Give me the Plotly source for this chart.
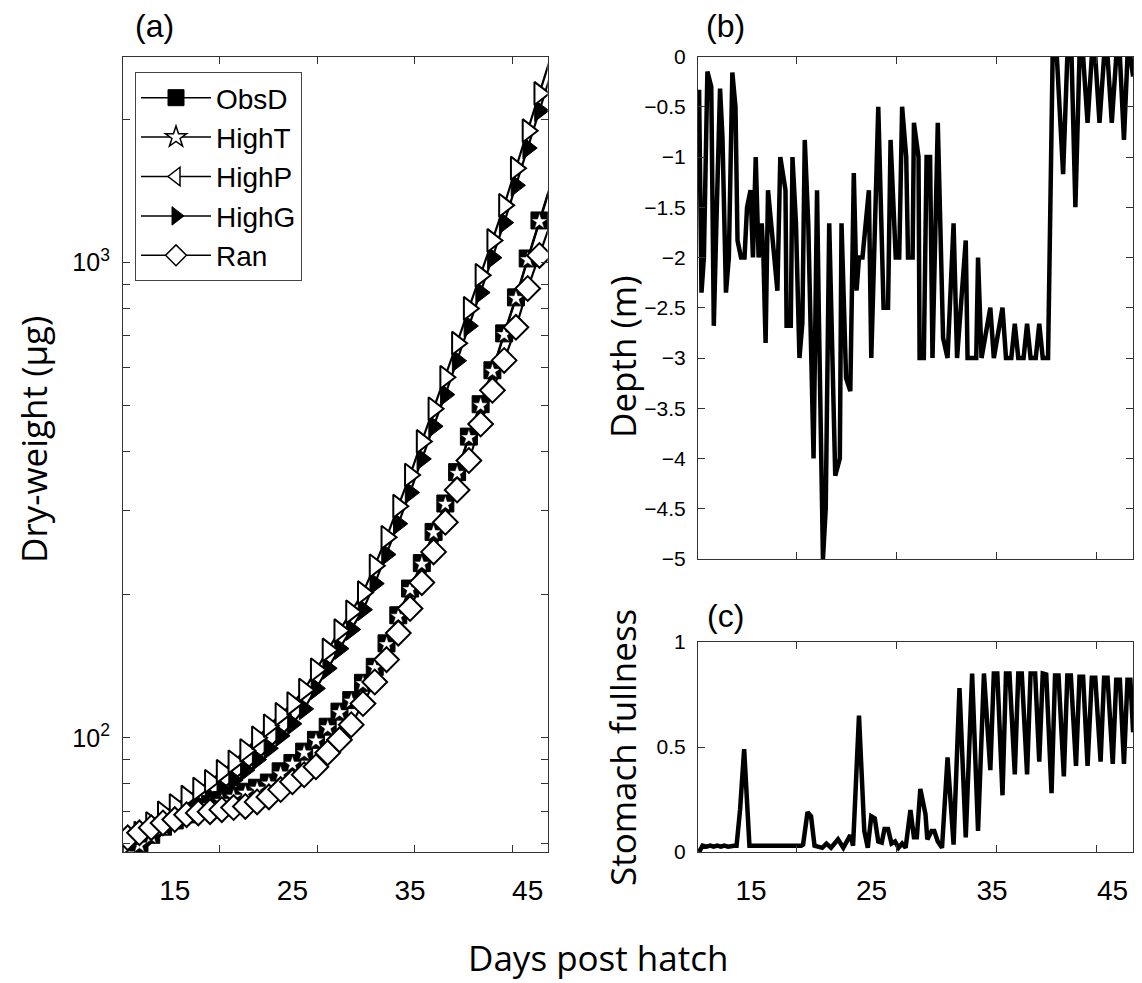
import plotly.graph_objects as go

# ---------------- data ----------------
days = list(range(11, 48))
obsd = [57.5, 60, 62.5, 65, 67, 69, 71, 72.5, 74, 75.5, 77, 78.5, 80.5, 85, 88.5, 93.5, 99, 105.5,
        113.5, 120, 130.5, 141, 158, 181, 206, 233, 271, 311, 362, 430, 503, 593, 709, 844, 1019,
        1225, 1470]
hight = [57, 59.5, 62, 64.5, 66.5, 68.5, 70.5, 72, 73.5, 75, 76.5, 78, 80, 84, 88, 93, 98.5, 105,
         113, 119.5, 130, 140.5, 157, 180, 205, 232, 270, 310, 360, 428, 500, 590, 705, 840, 1013,
         1218, 1460]
highp = [60, 63, 66, 69.5, 72, 75, 78, 81, 85, 89, 94, 100, 106, 112, 118, 126, 139, 153, 168, 184,
         202, 230, 264, 307, 357, 420, 492, 573, 676, 800, 939, 1112, 1318, 1578, 1892, 2266, 2720]
highg = [57, 59.5, 62, 65, 67.5, 70, 72.5, 75, 78, 81.5, 85.5, 90, 95, 101, 107, 115, 127, 140, 154,
         169, 186, 211, 243, 282, 328, 386, 452, 527, 621, 735, 864, 1023, 1212, 1452, 1740, 2085, 2500]
ran = [61.6, 63.1, 64.7, 66.2, 67.3, 68.9, 69.5, 69.9, 70.6, 71.3, 71.7, 73.3, 75.1, 77.8, 80.8, 83.6,
       86.9, 93, 99, 106.5, 118, 131, 146, 166, 187, 212, 246, 284, 332, 383, 457, 538, 622, 730,
       881, 1034, 1220]

depth_days = [10.69, 10.89, 11.09, 11.38, 11.70, 11.91, 12.14, 12.43, 12.63, 12.92,
              13.16, 13.45, 13.71, 13.88, 14.17, 14.46, 14.67, 14.96, 15.16, 15.39,
              15.63, 15.89, 16.03, 16.21, 16.41, 16.79, 17.19, 17.43, 17.86, 17.95,
              18.30, 18.44, 18.73, 19.02, 19.26, 19.46, 19.75, 20.19, 20.48, 20.62,
              20.97, 21.20, 21.49, 21.99, 22.37, 22.51, 22.89, 23.24, 23.53, 23.76,
              23.96, 24.25, 24.78, 24.98, 25.56, 26.00, 26.37, 26.58, 27.01, 27.30,
              27.54, 27.88, 28.03, 28.41, 28.52, 28.90, 28.99, 29.34, 29.57, 29.86,
              30.06, 30.50, 30.94, 31.31, 31.81, 32.10, 32.82, 32.97, 33.69, 33.84,
              34.13, 34.86, 35.15, 35.87, 36.16, 36.60, 36.89, 37.18, 37.62, 37.91,
              38.20, 38.63, 38.92, 39.21, 39.65, 40.03, 40.38, 40.90, 41.25, 41.60,
              41.92, 42.26, 42.56, 42.93, 43.28, 43.57, 43.92, 44.30, 44.59, 44.94,
              45.31, 45.61, 45.95, 46.24, 46.48, 46.71]
depth = [-0.33, -2.35, -2.0, -0.15, -0.3, -2.68, -1.6, -0.32, -0.8, -2.35,
         -2.0, -0.16, -0.5, -1.83, -2.0, -2.0, -1.5, -1.33, -2.0, -1.0,
         -2.0, -1.66, -2.0, -2.85, -1.33, -1.83, -2.33, -1.0, -1.33, -2.68,
         -2.68, -1.0, -1.66, -3.0, -2.65, -0.83, -1.66, -4.0, -1.33, -2.5,
         -5.0, -4.5, -1.66, -4.17, -4.0, -1.66, -3.2, -3.33, -1.16, -2.33,
         -2.0, -2.0, -1.33, -3.0, -0.5, -2.5, -2.5, -0.83, -2.0, -2.0,
         -0.5, -1.0, -2.0, -2.0, -0.66, -1.0, -3.0, -3.0, -1.0, -1.0,
         -3.0, -0.66, -2.8, -3.0, -1.66, -3.0, -1.83, -3.0, -3.0, -2.0,
         -3.0, -2.5, -3.0, -2.5, -3.0, -3.0, -2.66, -3.0, -3.0, -2.66,
         -3.0, -3.0, -2.66, -3.0, -3.0, 0, 0, -1.17, 0, 0,
         -1.5, 0, 0, -0.66, 0, 0, -0.66, 0, 0, -0.66,
         0, 0, -0.83, 0, 0, -0.2]

stom_days = [10.69, 10.98, 11.3, 11.62, 11.9, 12.2, 12.5, 12.78, 13.1, 13.36,
             13.6, 13.80, 14.09, 14.43, 14.73, 14.87, 15.5, 16.26, 17.0, 17.72,
             18.4, 19.17, 19.32, 19.69, 19.98, 20.27, 20.91, 21.26, 21.64, 22.22,
             22.66, 23.24, 23.47, 23.96, 24.40, 24.69, 24.98, 25.27, 25.56, 25.85,
             26.08, 26.37, 26.66, 26.95, 27.24, 27.54, 27.83, 28.23, 28.52, 28.76,
             29.05, 29.48, 29.63, 29.98, 30.21, 30.50, 30.85, 31.31, 31.81, 32.30,
             32.82, 33.35, 33.84, 34.33, 34.86, 35.15, 35.44, 35.87, 36.16, 36.45,
             36.89, 37.18, 37.47, 37.91, 38.20, 38.58, 38.92, 39.21, 39.50, 39.94,
             40.23, 40.52, 40.96, 41.25, 41.54, 41.97, 42.26, 42.56, 42.93, 43.28,
             43.57, 44.01, 44.30, 44.59, 45.02, 45.31, 45.61, 45.95, 46.24, 46.48,
             46.71]
stomach = [0.0, 0.03, 0.025, 0.03, 0.025, 0.03, 0.025, 0.03, 0.025, 0.03,
           0.03, 0.03, 0.2, 0.49, 0.1, 0.03, 0.03, 0.03, 0.025, 0.03,
           0.03, 0.03, 0.035, 0.19, 0.17, 0.03, 0.02, 0.04, 0.02, 0.06,
           0.02, 0.08, 0.03, 0.65, 0.1, 0.02, 0.17, 0.16, 0.05, 0.045,
           0.11, 0.11, 0.04, 0.05, 0.02, 0.04, 0.02, 0.2, 0.07, 0.07,
           0.3, 0.18, 0.06, 0.1, 0.1, 0.05, 0.02, 0.45, 0.035, 0.78,
           0.07, 0.85, 0.1, 0.85, 0.39, 0.85, 0.85, 0.27, 0.85, 0.85,
           0.37, 0.85, 0.85, 0.37, 0.85, 0.85, 0.43, 0.85, 0.845, 0.28,
           0.84, 0.84, 0.36, 0.84, 0.84, 0.41, 0.835, 0.835, 0.41, 0.83,
           0.83, 0.43, 0.83, 0.83, 0.42, 0.82, 0.82, 0.42, 0.82, 0.82,
           0.57]

x_labels = [15, 25, 35, 45]
x_marks = [18.8, 27.1, 35.4, 43.7]
y_log_major = [100, 1000]
y_log_text = ['10<sup>2</sup>', '10<sup>3</sup>']
y_log_minor = [60, 70, 80, 90, 200, 300, 400, 500, 600, 700, 800, 900, 2000]
series_names = ['ObsD', 'HighT', 'HighP', 'HighG', 'Ran']

# ---------------- styling ----------------
# the page body adds an 8px margin, so the figure is made 8px smaller and
# all layout positions below are given in window pixels minus that offset
OFF = 8
W, H = 1142 - OFF, 983 - OFF
XTICKF = dict(family='Liberation Sans, Arial, sans-serif', size=28, color='black')
YTICKF = dict(family='Liberation Sans, Arial, sans-serif', size=21, color='black')
LOGTICKF = dict(family='Liberation Sans, Arial, sans-serif', size=25, color='black')
LABF = dict(family='Open Sans, sans-serif', size=35, color='black')
AXC = '#333333'
XR = [10.6, 46.7]


def fx(p):
    return (p - OFF) / W


def fy(p):
    return 1 - (p - OFF) / H


fig = go.Figure()
lw = dict(color='black', width=2.2)
nm = len(days)


def sizes(s):
    return [s] * (nm - 1) + [0]


# plotting order chosen so that white markers sit on top like the reference
fig.add_trace(go.Scatter(x=days, y=obsd, mode='lines+markers', line=lw,
                         marker=dict(symbol='square', size=sizes(17), color='black', opacity=1,
                                     line=dict(color='black', width=1)),
                         showlegend=False, xaxis='x', yaxis='y'))
fig.add_trace(go.Scatter(x=days, y=highg, mode='lines+markers', line=lw,
                         marker=dict(symbol='triangle-right', size=sizes(19), color='black', opacity=1,
                                     line=dict(color='black', width=1)),
                         showlegend=False, xaxis='x', yaxis='y'))
fig.add_trace(go.Scatter(x=days, y=hight, mode='lines+markers', line=lw,
                         marker=dict(symbol='star', size=sizes(12), color='white', opacity=1,
                                     line=dict(color='black', width=0.5)),
                         showlegend=False, xaxis='x', yaxis='y'))
fig.add_trace(go.Scatter(x=days, y=highp, mode='lines+markers', line=lw,
                         marker=dict(symbol='triangle-right', size=sizes(20), color='white', opacity=1,
                                     line=dict(color='black', width=2)),
                         showlegend=False, xaxis='x', yaxis='y'))
fig.add_trace(go.Scatter(x=days, y=ran, mode='lines+markers', line=lw,
                         marker=dict(symbol='diamond', size=sizes(19), color='white', opacity=1,
                                     line=dict(color='black', width=2)),
                         showlegend=False, xaxis='x', yaxis='y'))

# legend entries
leg_markers = [
    dict(symbol='square', size=18, color='black', line=dict(color='black', width=1)),
    dict(symbol='star', size=18, color='white', line=dict(color='black', width=1.5)),
    dict(symbol='triangle-left', size=19, color='white', line=dict(color='black', width=1.5)),
    dict(symbol='triangle-right', size=19, color='black', line=dict(color='black', width=1)),
    dict(symbol='diamond', size=19, color='white', line=dict(color='black', width=1.5)),
]
for name, mk in zip(series_names, leg_markers):
    fig.add_trace(go.Scatter(x=[None], y=[None], mode='lines+markers', name=name,
                             line=dict(color='black', width=1.5), marker=mk,
                             xaxis='x', yaxis='y'))

fig.add_trace(go.Scatter(x=depth_days, y=depth, mode='lines',
                         line=dict(color='black', width=4.5), showlegend=False,
                         xaxis='x2', yaxis='y2'))
fig.add_trace(go.Scatter(x=stom_days, y=stomach, mode='lines',
                         line=dict(color='black', width=4.5), showlegend=False,
                         xaxis='x3', yaxis='y3'))

common_x = dict(range=XR, showline=True, linecolor=AXC, linewidth=1.2, mirror='ticks',
                tickvals=x_labels, ticks='', tickfont=XTICKF, ticklabelstandoff=13,
                showgrid=False, zeroline=False, automargin=False,
                minor=dict(tickvals=x_marks, ticks='inside', ticklen=7,
                           tickcolor=AXC, tickwidth=1, showgrid=False))
common_y = dict(showline=True, linecolor=AXC, linewidth=1.2, mirror='ticks',
                ticks='inside', ticklen=7, tickcolor=AXC, ticklabelstandoff=7,
                showgrid=False, zeroline=False, automargin=False)

fig.update_layout(
    width=W, height=H, margin=dict(l=0, r=0, t=0, b=0, autoexpand=False),
    paper_bgcolor='white', plot_bgcolor='white',
    xaxis=dict(domain=[fx(123), fx(547.7)], anchor='y', **common_x),
    yaxis=dict(domain=[fy(852), fy(56.5)], anchor='x', type='log', tickfont=LOGTICKF,
               range=[1.7597, 3.433], tickvals=y_log_major, ticktext=y_log_text,
               minor=dict(tickvals=y_log_minor, ticks='inside', ticklen=7,
                          tickcolor=AXC, tickwidth=1, showgrid=False),
               **common_y),
    xaxis2=dict(domain=[fx(698), fx(1133)], anchor='y2', showticklabels=False, **common_x),
    yaxis2=dict(domain=[fy(559), fy(56.5)], anchor='x2', range=[-5, 0], tickfont=YTICKF,
                tickvals=[-5, -4.5, -4, -3.5, -3, -2.5, -2, -1.5, -1, -0.5, 0], **common_y),
    xaxis3=dict(domain=[fx(698), fx(1133)], anchor='y3', **common_x),
    yaxis3=dict(domain=[fy(852), fy(642)], anchor='x3', range=[0, 1], tickfont=YTICKF,
                tickvals=[0, 0.5, 1], **common_y),
    legend=dict(x=fx(135), y=fy(72), xanchor='left', yanchor='top',
                bgcolor='white', bordercolor='#444444', borderwidth=1,
                font=dict(family='Liberation Sans, Arial, sans-serif', size=28, color='black'),
                itemwidth=70, tracegroupgap=0),
    showlegend=True,
)

ann = [
    dict(text='Dry-weight (µg)', x=fx(33), y=fy(440), textangle=-90, font=LABF),
    dict(text='Depth (m)', x=fx(622), y=fy(357), textangle=-90, font=LABF),
    dict(text='Stomach fullness', x=fx(622), y=fy(748), textangle=-90, font=LABF),
    dict(text='Days post hatch', x=fx(598), y=fy(957), font=LABF),
    dict(text='(a)', x=fx(154), y=fy(26), font=dict(family='Liberation Sans, Arial', size=32, color='black')),
    dict(text='(b)', x=fx(725), y=fy(26), font=dict(family='Liberation Sans, Arial', size=32, color='black')),
    dict(text='(c)', x=fx(725), y=fy(616), font=dict(family='Liberation Sans, Arial', size=32, color='black')),
]
for a in ann:
    fig.add_annotation(xref='paper', yref='paper', showarrow=False,
                       xanchor='center', yanchor='middle', **a)

fig.write_html('out.html')
